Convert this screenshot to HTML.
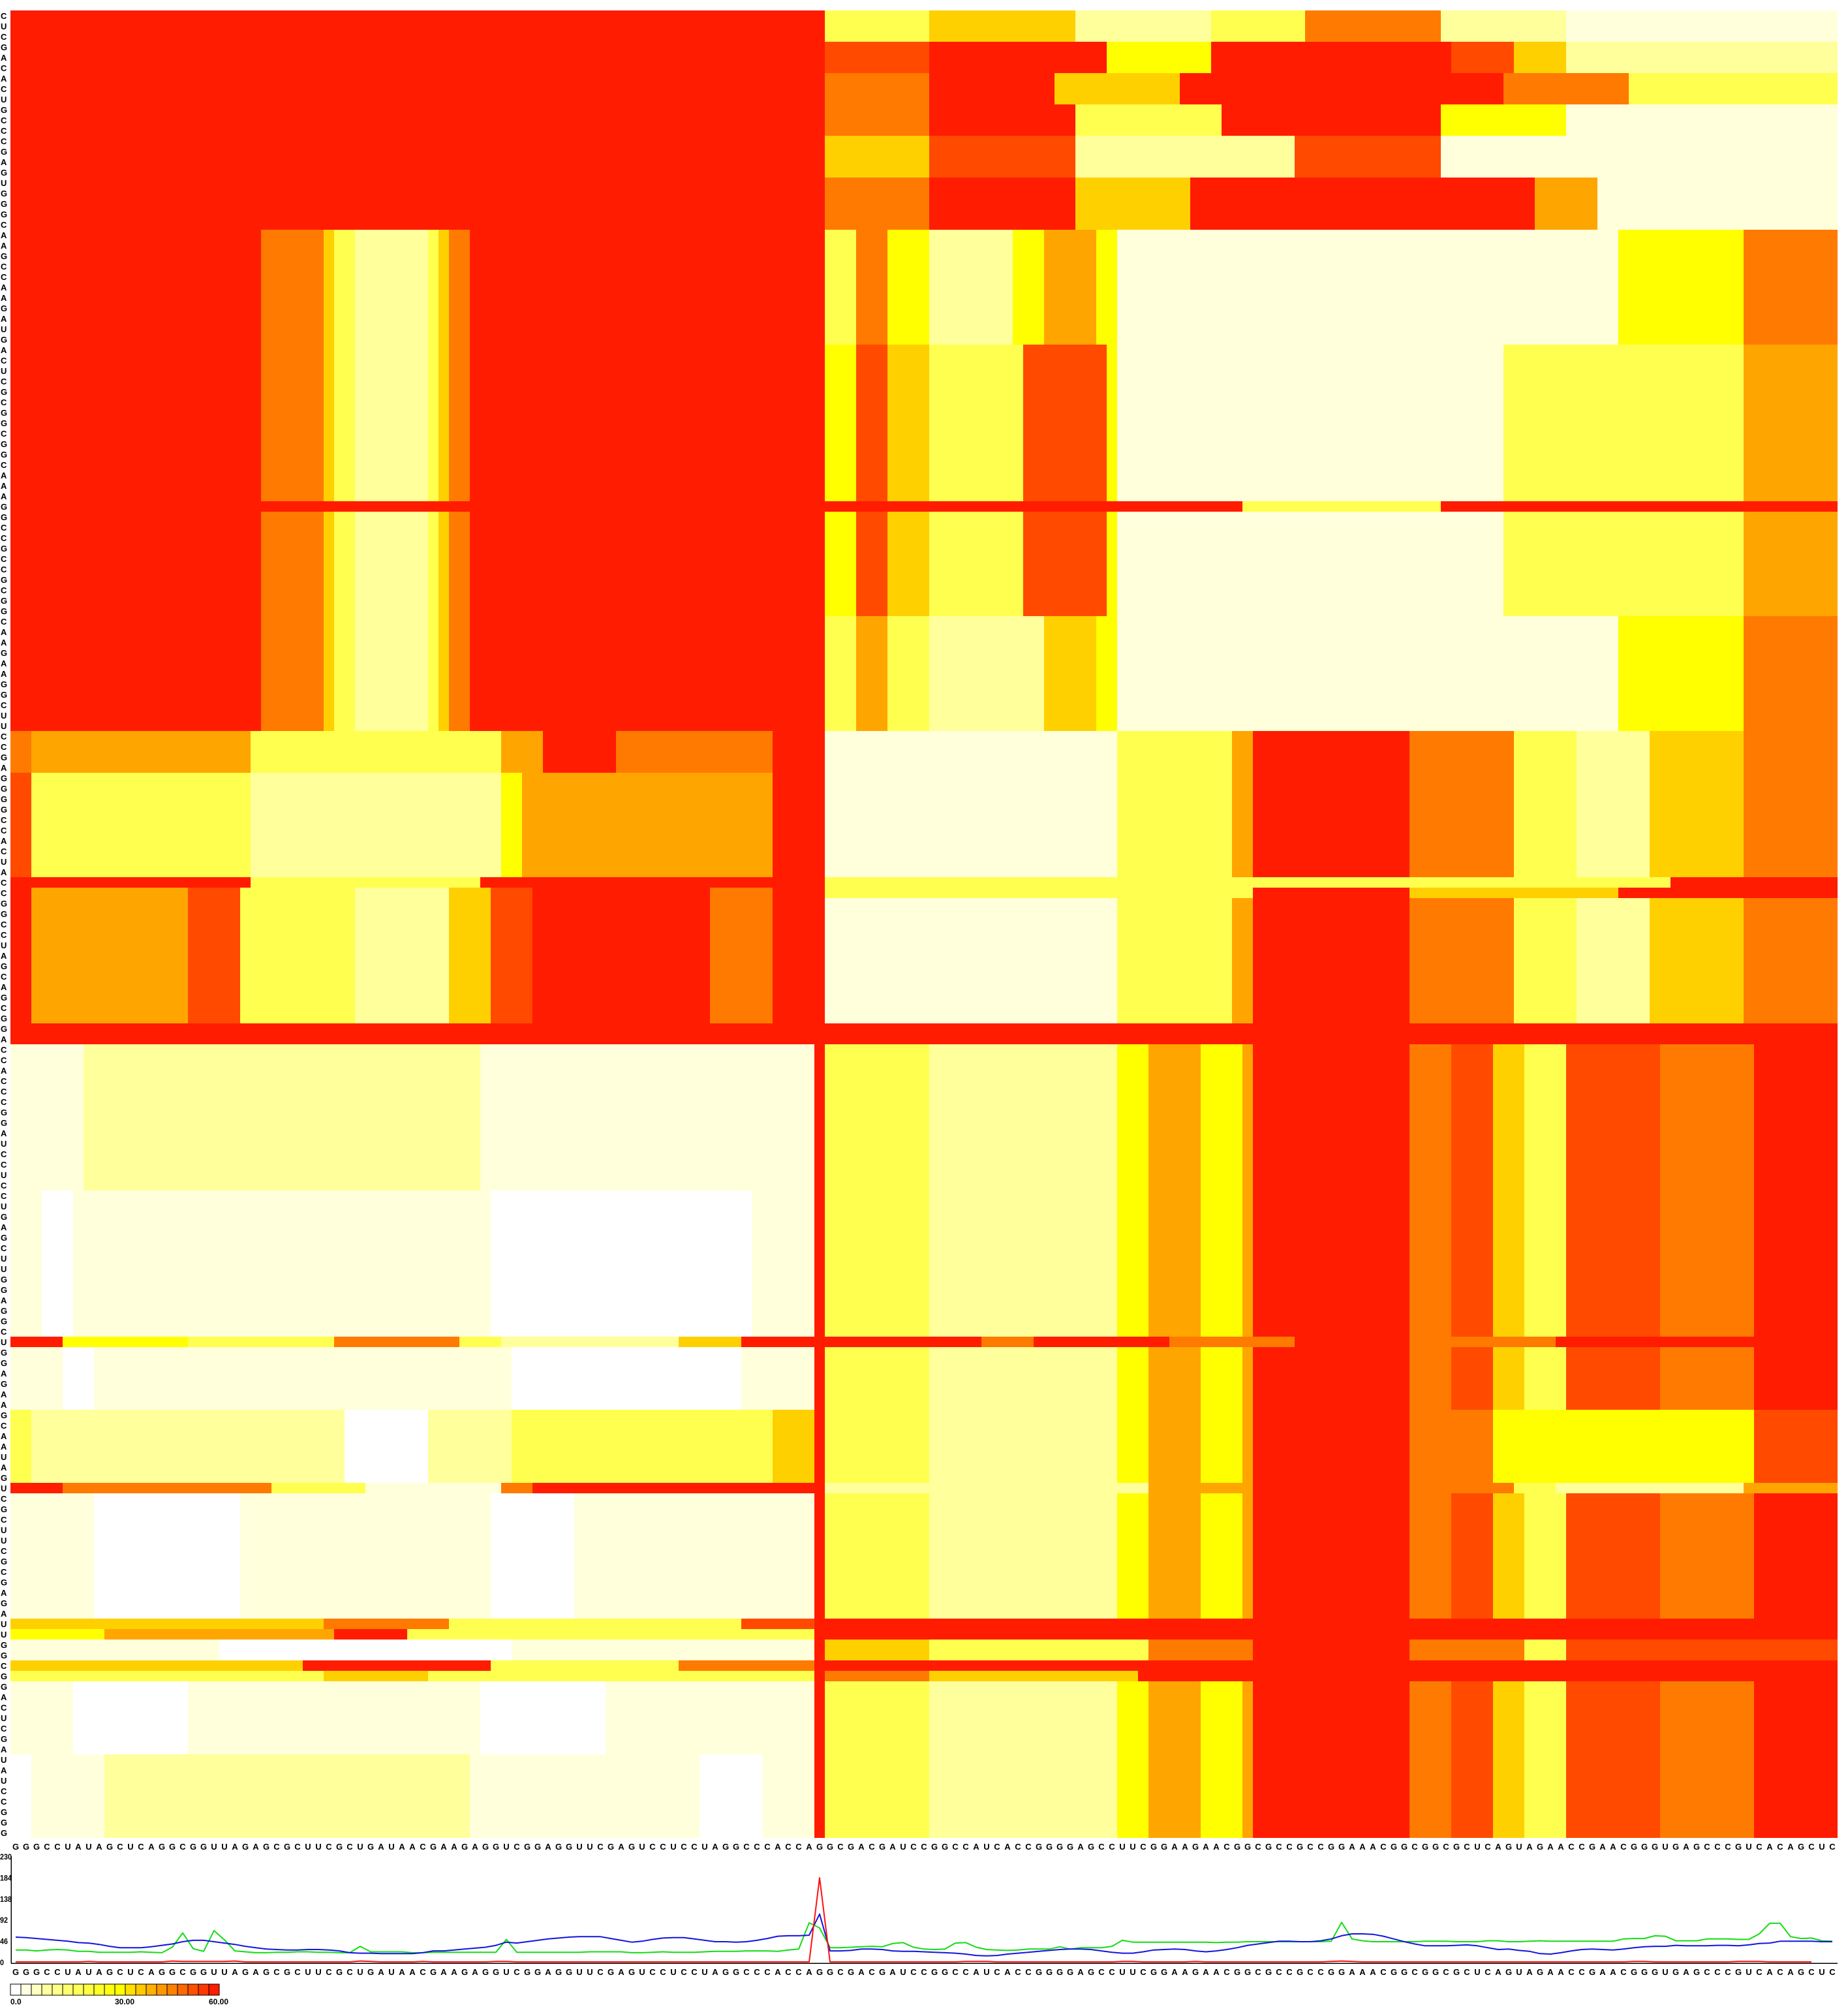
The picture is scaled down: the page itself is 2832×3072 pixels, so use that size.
<!DOCTYPE html>
<html>
<head>
<meta charset="utf-8">
<style>
html,body{margin:0;padding:0;background:#fff;}
svg{display:block;}
text{font-family:"Liberation Sans",sans-serif;font-weight:bold;fill:#000;}
</style>
</head>
<body>
<svg id="chart" width="2832" height="3072" viewBox="0 0 2832 3072" xmlns="http://www.w3.org/2000/svg" shape-rendering="crispEdges">
  <g id="heatmap"></g>
  <g id="row-labels"></g>
  <g id="col-labels-top"></g>
  <g id="profile"></g>
  <g id="col-labels-bottom"></g>
  <g id="legend"></g>
</svg>
<script>
// ---------- data ----------
const sequence = "GGGCCUAUAGCUCAGGCGGUUAGAGCGCUUCGCUGAUAACGAA" +
  "GAGGUCGGAGGUUCGAGUCCUCCUA" +
  "GGCCCACCAGGCGACGAUCCGGCCAUCACCGGGGAGCCUUC" +
  "GGAAGAACGGCGCCGCCGGAAACGGCGGCGCUC" +
  "AGUAGAACCGAACGGGUGAGCCCGUCACAGCUC";

// heatmap: groups of rows (count) and run-length levels "level x count" across the 175 columns
const rowCounts = [3,3,3,3,4,5,11,15,1,10,11,4,10,1,1,12,2,14,14,1,6,7,1,12,1,1,2,1,1,7,8];
const rowRuns = [
  "9x78 3x10 5x14 2x13 3x9 7x13 2x12 1x26",
  "9x78 8x10 9x17 4x10 9x23 8x6 5x5 2x26",
  "9x78 7x10 9x12 5x12 9x31 7x12 3x20",
  "9x78 7x10 9x14 3x14 9x21 4x12 1x26",
  "9x78 5x10 8x14 2x21 8x14 1x38",
  "9x78 7x10 9x14 5x11 9x33 6x6 1x23",
  "9x24 7x6 5x1 3x2 2x7 3x1 5x1 7x2 9x34 3x3 7x3 4x4 2x8 4x3 6x5 4x2 1x48 4x12 7x9",
  "9x24 7x6 5x1 3x2 2x7 3x1 5x1 7x2 9x34 4x3 8x3 5x4 3x9 8x8 4x1 1x37 3x23 6x9",
  "9x118 3x19 9x38",
  "9x24 7x6 5x1 3x2 2x7 3x1 5x1 7x2 9x34 4x3 8x3 5x4 3x9 8x8 4x1 1x37 3x23 6x9",
  "9x24 7x6 5x1 3x2 2x7 3x1 5x1 7x2 9x34 3x3 6x3 3x4 2x11 5x5 4x2 1x48 4x12 7x9",
  "7x2 6x21 3x24 6x4 9x7 7x15 9x5 1x28 3x11 6x2 9x15 7x10 3x6 2x7 5x9 7x9",
  "8x2 3x21 2x24 4x2 6x24 9x5 1x28 3x11 6x2 9x15 7x10 3x6 2x7 5x9 7x9",
  "9x23 3x22 9x33 3x81 9x16",
  "9x2 6x15 8x5 3x11 2x9 5x4 8x4 9x17 7x6 9x5 3x41 9x15 5x20 9x21",
  "9x2 6x15 8x5 3x11 2x9 5x4 8x4 9x17 7x6 9x5 1x28 3x11 6x2 9x15 7x10 3x6 2x7 5x9 7x9",
  "9x175",
  "1x7 2x38 1x32 9x1 3x10 2x18 4x3 6x5 4x4 6x1 9x15 7x4 8x4 5x3 3x4 8x9 7x9 9x8",
  "1x3 0x3 1x40 0x25 1x6 9x1 3x10 2x18 4x3 6x5 4x4 6x1 9x15 7x4 8x4 5x3 3x4 8x9 7x9 9x8",
  "9x5 4x12 3x14 7x12 3x4 2x17 5x6 9x8 9x15 7x5 9x13 7x12 9x11 7x14 9x27",
  "1x5 0x3 1x40 0x22 1x7 9x1 3x10 2x18 4x3 6x5 4x4 6x1 9x15 7x4 8x4 5x3 3x4 8x9 7x9 9x8",
  "3x2 2x30 0x8 2x8 3x25 5x4 9x1 3x10 2x18 4x3 6x5 4x4 6x1 9x15 7x8 4x25 8x8",
  "9x5 7x20 3x9 1x13 7x3 9x28 2x31 6x10 9x15 7x10 3x4 2x18 6x9",
  "1x8 0x14 1x24 0x8 1x23 9x1 3x10 2x18 4x3 6x5 4x4 6x1 9x15 7x4 8x4 5x3 3x4 8x9 7x9 9x8",
  "5x30 7x12 3x28 8x7 9x1 9x97",
  "4x9 6x22 9x7 3x39 9x1 9x97",
  "1x20 0x28 1x29 9x1 5x10 3x21 7x10 9x15 7x11 3x4 8x26",
  "5x28 9x18 3x18 7x13 9x1 9x97",
  "3x30 5x10 3x37 9x1 7x10 5x20 9x67",
  "1x6 0x11 1x28 0x12 1x20 9x1 3x10 2x18 4x3 6x5 4x4 6x1 9x15 7x4 8x4 5x3 3x4 8x9 7x9 9x8",
  "0x2 1x7 2x35 1x22 0x6 1x5 9x1 3x10 2x18 4x3 6x5 4x4 6x1 9x15 7x4 8x4 5x3 3x4 8x9 7x9 9x8"
];

// profile line chart series (value per nucleotide)
const blueValues = [54,53,51,49,47,45,42,41,38,34,31,31,31,33,36,39,44,47,47,44,41,38,34,31,28,27,26,26,27,27,26,24,20,19,19,18,18,18,18,20,24,24,26,28,30,32,36,43,41,44,47,50,52,54,55,55,55,51,47,43,45,49,52,53,53,50,47,44,44,43,44,47,51,56,57,57,58,104,24,24,25,28,28,27,24,23,23,22,21,20,19,17,14,13,14,17,19,21,23,25,27,28,28,27,24,21,19,19,22,26,27,28,27,24,22,24,27,31,36,39,42,45,45,44,44,46,50,57,61,61,60,56,50,44,39,35,35,35,36,37,35,31,27,28,25,23,18,17,20,24,27,28,27,26,28,31,33,34,34,36,35,35,35,36,36,35,37,40,41,45,45,45,45,44,44];
const greenValues = [26,26,24,26,27,26,23,23,21,21,21,21,22,21,20,32,63,29,23,68,48,24,22,20,20,21,21,22,22,21,21,20,20,34,22,22,22,22,20,20,21,21,21,21,21,21,21,49,21,21,21,21,21,21,21,22,22,22,22,20,20,21,22,21,21,21,22,23,23,23,24,24,24,23,26,28,85,74,31,31,32,33,34,33,40,42,32,28,27,28,41,42,32,27,26,25,26,28,28,28,33,28,31,31,31,34,47,43,43,43,43,43,43,43,43,42,43,43,44,44,44,44,44,44,44,44,45,86,50,46,44,44,44,44,44,45,45,45,44,44,44,46,46,44,44,45,46,45,45,45,45,45,45,45,50,51,51,57,56,46,46,46,50,50,50,49,49,61,84,84,55,51,52,46,45];
const redValues = [0,0,0,0,0,0,0,1,0,0,0,0,0,0,0,2,1,1,1,1,1,2,0,0,0,0,0,0,0,0,0,0,0,2,1,0,0,0,0,1,0,0,0,0,0,0,1,1,0,0,0,0,0,0,0,0,0,0,0,0,0,0,0,0,0,0,0,0,0,0,0,0,0,0,0,0,0,183,0,0,0,0,0,0,0,0,0,0,0,0,0,1,1,1,0,0,0,0,0,0,0,0,0,0,0,0,1,1,0,0,0,0,0,1,0,0,0,0,0,0,0,0,0,0,0,0,1,2,1,0,0,0,0,0,0,0,0,0,0,0,0,0,0,0,0,0,0,0,0,0,0,0,0,0,0,1,1,0,0,0,0,0,0,0,0,1,1,1,0,0,0,0,0];
const yTicks = ["230","184","138","92","46","0"];
const legendLabels = ["0.0","30.00","60.00"];

// ---------- styles ----------
const levelColors = ["#ffffff","#ffffdc","#ffff9c","#ffff50","#ffff00","#ffd000","#ffa500","#ff7a00","#ff4a00","#ff1c00"];
const legendColors = ["#ffffff","#ffffe0","#ffffc0","#ffffa0","#ffff88","#ffff70","#ffff58","#ffff40","#ffff28","#ffff10","#ffff00","#ffe000","#ffc800","#ffb000","#ff9800","#ff8000","#ff6800","#ff5000","#ff3800","#ff1c00"];
const NS = "http://www.w3.org/2000/svg";
const N = sequence.length;
const CELL = 16, X0 = 16, Y0 = 16;
const colX = c => X0 + CELL * c;
const rowY = r => Y0 + CELL * r;
const px = i => X0 + CELL * i + CELL / 2;
const vMax = 230, yTop = 2844, yBase = 3006;
const py = v => yBase - (v / vMax) * (yBase - yTop);

function mk(tag, attrs, parent) {
  const el = document.createElementNS(NS, tag);
  for (const k in attrs) el.setAttribute(k, attrs[k]);
  parent.appendChild(el);
  return el;
}

// ---------- heatmap ----------
const hm = document.getElementById("heatmap");
let row = 0;
rowCounts.forEach((count, g) => {
  let col = 0;
  rowRuns[g].trim().split(/\s+/).forEach(tok => {
    const [lvl, n] = tok.split("x").map(Number);
    const r = mk("rect", {x: colX(col), y: rowY(row), width: CELL * n, height: CELL * count, fill: levelColors[lvl]}, hm);
    
    
    col += n;
  });
  row += count;
});

// ---------- labels ----------
const rl = document.getElementById("row-labels");
for (let r = 0; r < N; r++) {
  const t = mk("text", {x: 1, y: rowY(r) + 13, "font-size": 13}, rl);
  t.textContent = sequence[N - 1 - r];
  
  
}
const ct = document.getElementById("col-labels-top");
const cb = document.getElementById("col-labels-bottom");
for (let i = 0; i < N; i++) {
  const t1 = mk("text", {x: px(i), y: 2834, "font-size": 13, "text-anchor": "middle"}, ct);
  t1.textContent = sequence[i];
  
  
  const t2 = mk("text", {x: px(i), y: 3026, "font-size": 13, "text-anchor": "middle"}, cb);
  t2.textContent = sequence[i];
  
  
}

// ---------- profile chart ----------
const pr = document.getElementById("profile");
const yAxis = mk("line", {x1: 17, y1: yTop, x2: 17, y2: yBase + 2, stroke: "#000", "stroke-width": 1.5}, pr);


const xAxis = mk("line", {x1: 17, y1: yBase + 2, x2: 2816, y2: yBase + 2, stroke: "#000", "stroke-width": 1.5}, pr);


yTicks.forEach((lab, k) => {
  const v = Number(lab);
  const t = mk("text", {x: 0, y: py(v) + 5, "font-size": 12, "textLength": lab.length * 6, "lengthAdjust": "spacingAndGlyphs"}, pr);
  t.textContent = lab;
  
  
});
function series(vals, color, name) {
  const pts = vals.map((v, i) => px(i) + "," + py(v).toFixed(1)).join(" ");
  const pl = mk("polyline", {points: pts, fill: "none", stroke: color, "stroke-width": 2, "shape-rendering": "geometricPrecision", "stroke-linejoin": "round"}, pr);
  
  
}
series(greenValues, "#14dc14", "green-series-line");
series(blueValues, "#1414e0", "blue-series-line");
series(redValues, "#ff1010", "red-series-line");

// ---------- legend ----------
const lg = document.getElementById("legend");
legendColors.forEach((c, k) => {
  const r = mk("rect", {x: 16 + 16 * k, y: 3040, width: 16, height: 17, fill: c, stroke: "#000", "stroke-width": 1}, lg);
  
  
});
const legendX = [16, 176, 320];
legendLabels.forEach((lab, k) => {
  const t = mk("text", {x: legendX[k], y: 3071, "font-size": 12}, lg);
  t.textContent = lab;
  
  
});
</script>
</body>
</html>
